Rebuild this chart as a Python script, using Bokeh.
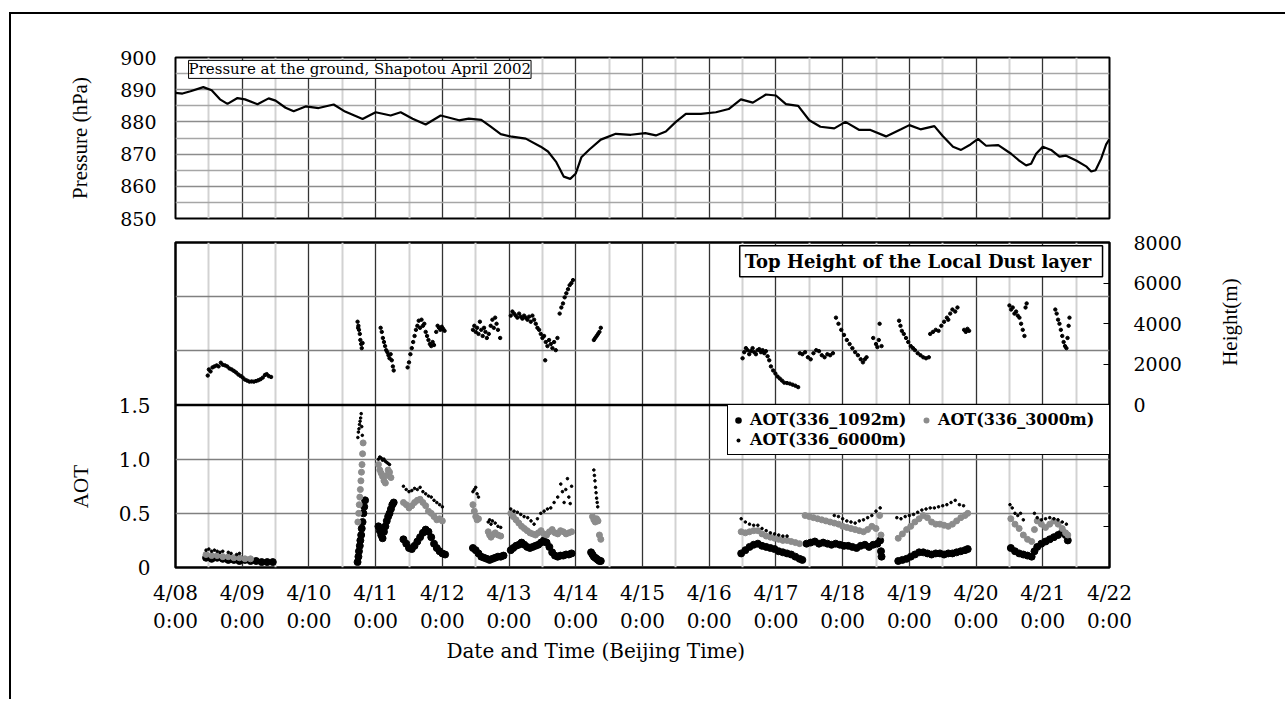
import math
from bokeh.plotting import figure
from bokeh.models import (Range1d, LinearAxis, FixedTicker, CustomJSTickFormatter,
                          Label, Legend, LegendItem, Span)
from bokeh.layouts import column
from bokeh.embed import file_html
from bokeh.resources import INLINE

FONT = "DejaVu Serif"
RFONT = "Liberation Serif"

# ---------------- data ----------------
day_ticks = [0, 24, 48, 72, 96, 120, 144, 168, 192, 216, 240, 264, 288, 312, 336]
half_day_ticks = [12, 36, 60, 84, 108, 132, 156, 180, 204, 228, 252, 276, 300, 324]
day_labels = ["4/08\n0:00", "4/09\n0:00", "4/10\n0:00", "4/11\n0:00", "4/12\n0:00",
              "4/13\n0:00", "4/14\n0:00", "4/15\n0:00", "4/16\n0:00", "4/17\n0:00",
              "4/18\n0:00", "4/19\n0:00", "4/20\n0:00", "4/21\n0:00", "4/22\n0:00"]
pressure_ticks = [850, 860, 870, 880, 890, 900]
aot_ticks = [0, 0.5, 1.0, 1.5]
height_ticks = [-6000, -4000, -2000, 0, 2000, 4000, 6000, 8000]

# hours since 4/08 0:00 (Beijing time)
pressure_hours = [0, 2.5, 5.4, 10, 13, 16, 18.7, 22.3, 25, 29.5, 33.5, 36, 39.6, 42.5, 46.8,
                  51.5, 56.9, 61, 67.3, 72, 77.4, 81, 85.3, 90, 95.4, 102, 105.5, 110, 113.4,
                  117, 121, 126, 131.4, 134, 137, 139.7, 142, 144, 146, 149, 153, 158.4,
                  163.8, 169, 172.8, 176.4, 180, 183.6, 189, 194.4, 199, 203.4, 207.7, 212.4,
                  216, 219.6, 224, 228, 232, 237, 241, 246, 250, 255.6, 261, 264, 268, 273,
                  276, 279.7, 282.6, 286, 288.7, 291.6, 296, 300.6, 303.5, 306, 307.8, 309.6,
                  312, 315, 318, 320.4, 324, 327.6, 329.4, 331, 333, 334.8, 336]
pressure_hpa = [889.0, 888.8, 889.5, 890.8, 889.8, 887.0, 885.6, 887.4, 887.0, 885.5, 887.3,
                886.6, 884.4, 883.3, 884.8, 884.3, 885.4, 883.2, 880.9, 883.0, 882.0, 883.0,
                881.0, 879.2, 882.0, 880.5, 881.0, 880.6, 878.5, 876.2, 875.4, 874.8, 872.3,
                870.8, 867.5, 863.0, 862.3, 864.0, 869.0, 871.5, 874.5, 876.3, 876.0, 876.5,
                875.8, 877.0, 880.0, 882.5, 882.5, 883.0, 884.0, 887.0, 886.0, 888.5, 888.2,
                885.5, 885.0, 880.5, 878.5, 878.0, 880.0, 877.5, 877.5, 875.5, 877.7, 879.0,
                877.7, 878.7, 875.6, 872.3, 871.3, 873.0, 874.7, 872.6, 872.8, 870.1, 868.0,
                866.5, 867.0, 870.1, 872.3, 871.3, 869.2, 869.5, 868.0, 866.2, 864.6, 865.0,
                868.6, 873.0, 874.7]

height_hours = ([11.6, 12.0, 12.6, 13.3, 14.0, 14.8, 15.5, 16.3, 17.0, 17.8, 18.6, 19.4, 20.2,
                 21.0, 21.8, 22.6, 23.4, 24.2, 25.0, 25.8, 26.6, 27.4, 28.2, 29.0, 29.8, 30.6,
                 31.4, 32.2, 32.8, 33.6, 34.4]
                + [65.5, 65.7, 65.8, 66.0, 66.3, 66.5, 66.8, 67.0, 67.3]
                + [73.8, 74.2, 74.6, 75.0, 75.4, 75.8, 76.2, 76.6, 77.0, 77.4, 77.8, 78.2, 78.5]
                + [83.5, 84.0, 84.5, 85.0, 85.5, 86.0, 86.5, 87.0]
                + [87.5, 88.0, 88.5, 89.0, 89.5, 90.0, 90.5]
                + [91.0, 91.5, 92.0, 92.5, 93.0]
                + [93.8, 94.3, 94.8, 95.3, 95.8, 96.3, 96.8]
                + [107.0, 107.5, 108.0, 108.5, 109.0, 109.5, 110.0, 110.5, 111.0, 111.5, 112.0,
                   112.7, 113.4, 114.0, 114.5, 115.0, 115.5, 116.0, 116.8]
                + [120.6, 121.2, 121.8, 122.4, 123.0, 123.6, 124.2, 124.8, 125.4, 126.0, 126.6,
                   127.2, 127.8, 128.4, 129.0, 129.6]
                + [130.2, 130.8, 131.4, 132.0, 132.6, 133.0, 133.2, 133.8, 134.4, 135.0, 135.6,
                   136.2, 136.8, 137.4]
                + [138.2, 138.8, 139.4, 140.0, 140.6, 141.2, 141.8, 142.4, 143.0]
                + [150.5, 151.0, 151.5, 152.0, 152.5, 153.0]
                + [204.0, 204.6, 205.2, 205.8, 206.4, 207.0, 207.6, 208.2, 208.8, 209.4, 210.0,
                   210.6, 211.2, 211.8, 212.4, 213.0, 213.6]
                + [214.2, 215.0, 215.8, 216.6, 217.4, 218.2, 219.0, 220.0, 221.0, 222.0, 223.0,
                   224.0]
                + [224.6, 225.5, 226.5, 227.5, 228.5, 229.5, 230.5, 231.5, 232.5, 233.5, 234.5,
                   235.5, 236.5]
                + [237.6, 238.5, 239.5, 240.5, 241.5, 242.5, 243.5, 244.5, 245.5, 246.5, 247.3,
                   248.0, 248.6]
                + [251.0, 252.0, 252.5, 253.0, 253.3, 254.0]
                + [260.3, 260.8, 261.3, 262.0, 262.8, 263.6, 264.5, 265.3, 266.0, 267.0, 268.0,
                   269.0, 270.0, 271.0]
                + [271.5, 272.5, 273.5, 274.5, 275.5, 276.5, 277.5, 278.0, 278.7, 279.5, 280.5,
                   281.3]
                + [283.7, 284.3, 284.9, 285.5]
                + [300.0, 300.6, 301.2, 301.8, 302.4, 303.0, 303.6, 304.2, 304.8, 305.4, 305.8,
                   306.2]
                + [316.5, 317.0, 317.5, 318.0, 318.5, 319.0, 319.5, 320.0, 320.5, 320.9, 321.3,
                   321.6])
height_m = ([1450, 1750, 1650, 1850, 1900, 1950, 1900, 2080, 1980, 1950, 1900, 1800, 1750, 1680,
             1600, 1500, 1430, 1350, 1250, 1200, 1150, 1160, 1150, 1180, 1220, 1270, 1350, 1480,
             1520, 1420, 1380]
            + [4100, 3800, 3900, 3700, 3500, 3200, 3000, 2800, 3050]
            + [3800, 3600, 3300, 3100, 2900, 2700, 2600, 2450, 2300, 2500, 2200, 1900, 1700]
            + [1850, 2100, 2500, 2800, 3100, 3400, 3700, 3900]
            + [4150, 3800, 4200, 3900, 4000, 3600, 3400]
            + [3200, 3000, 2900, 3100, 2950]
            + [3600, 3900, 3800, 3700, 3850, 3750, 3650]
            + [3700, 3900, 3600, 3800, 3500, 4100, 3700, 3400, 3800, 3600, 3300, 3500, 3900, 4200,
               3800, 4300, 4000, 3700, 3300]
            + [4400, 4600, 4500, 4400, 4300, 4500, 4350, 4250, 4400, 4300, 4200, 4350, 4100, 4400,
               4200, 4000]
            + [3800, 3700, 3500, 3300, 3400, 2200, 3100, 2900, 3200, 3000, 2800, 3100, 2700, 3300]
            + [4500, 4800, 5000, 5300, 5500, 5700, 5900, 6000, 6150]
            + [3200, 3300, 3400, 3500, 3600, 3800]
            + [2300, 2600, 2800, 2700, 2500, 2650, 2800, 2600, 2500, 2700, 2750, 2600, 2700, 2550,
               2650, 2400, 2200]
            + [1900, 1700, 1550, 1400, 1300, 1200, 1100, 1080, 1050, 1000, 950, 880]
            + [2550, 2500, 2600, 2350, 2250, 2550, 2700, 2650, 2450, 2350, 2500, 2450, 2550]
            + [4300, 4000, 3700, 3450, 3200, 3000, 2800, 2600, 2450, 2250, 2100, 2250, 2350]
            + [3300, 3000, 2850, 3200, 4000, 2900]
            + [4150, 3900, 3650, 3500, 3300, 3100, 2900, 2800, 2700, 2550, 2450, 2350, 2300, 2350]
            + [3500, 3600, 3700, 3650, 3900, 4100, 4300, 4200, 4500, 4700, 4600, 4800]
            + [3700, 3600, 3750, 3650]
            + [4900, 4700, 4800, 4500, 4600, 4400, 4300, 4000, 3700, 3400, 4800, 5000]
            + [4700, 4500, 4200, 4000, 3700, 3400, 3100, 2900, 2800, 3300, 3900, 4300])

aot1092_hours = ([11, 13, 15, 17, 19, 21, 23, 25, 27, 29, 31, 33, 35]
                 + [65.5, 65.8, 66.0, 66.3, 66.5, 66.8, 67.0, 67.3, 67.6, 67.9, 68.2]
                 + [73.0, 73.5, 74.0, 74.5, 75.0, 75.5, 76.0, 76.5, 77.0, 77.5, 78.0, 78.5]
                 + [82, 83, 84, 85, 86, 87, 88, 89, 90, 91, 92, 93, 94, 95, 96, 97]
                 + [107, 108, 109, 110, 111, 112, 113, 114, 115, 116, 117, 118]
                 + [120.6, 121.5, 122.5, 123.5, 124.5, 125.5, 126.5, 127.5, 128.5, 129.5, 130.5,
                    131.5, 132.5, 133.5, 134.5, 135.5, 136.5, 137.5, 138.5, 139.5, 140.5, 141.5,
                    142.5]
                 + [149.5, 150, 150.5, 151, 151.5, 152, 152.5, 153]
                 + [203.5, 205, 206.5, 208, 209.5, 211, 212.5, 214, 215.5, 217, 218.5, 220, 221.5,
                    223, 224.5, 225.5]
                 + [227, 228.5, 230, 231.5, 233, 234.5, 236, 237.5, 239, 240.5, 242, 243.5, 245,
                    246.5, 248, 249.5, 251, 252.5, 253.5, 253.8, 254]
                 + [260, 261.5, 263, 264.5, 266, 267.5, 269, 270.5, 272, 273.5, 275, 276.5, 278,
                    279.5, 281, 282.5, 284, 285]
                 + [300.5, 302, 303.5, 305, 306.5, 308, 309, 310, 311.5, 313, 314.5, 316, 317.5,
                    319, 320.2, 321])
aot1092 = ([0.09, 0.08, 0.09, 0.08, 0.07, 0.07, 0.06, 0.07, 0.06, 0.06, 0.05, 0.05, 0.05]
           + [0.05, 0.1, 0.15, 0.2, 0.25, 0.3, 0.36, 0.42, 0.5, 0.56, 0.62]
           + [0.38, 0.34, 0.3, 0.27, 0.33, 0.38, 0.43, 0.47, 0.5, 0.54, 0.58, 0.6]
           + [0.26, 0.22, 0.18, 0.17, 0.2, 0.24, 0.28, 0.32, 0.35, 0.33, 0.28, 0.22, 0.18, 0.15,
              0.13, 0.12]
           + [0.18, 0.16, 0.13, 0.1, 0.09, 0.08, 0.07, 0.08, 0.09, 0.1, 0.1, 0.11]
           + [0.16, 0.18, 0.2, 0.21, 0.23, 0.21, 0.19, 0.18, 0.19, 0.2, 0.21, 0.23, 0.25, 0.23,
              0.19, 0.14, 0.11, 0.1, 0.11, 0.11, 0.12, 0.12, 0.13]
           + [0.14, 0.12, 0.1, 0.09, 0.08, 0.07, 0.06, 0.06]
           + [0.13, 0.16, 0.19, 0.21, 0.22, 0.2, 0.19, 0.18, 0.17, 0.15, 0.14, 0.13, 0.12, 0.1,
              0.08, 0.07]
           + [0.22, 0.23, 0.24, 0.22, 0.23, 0.22, 0.21, 0.22, 0.21, 0.2, 0.2, 0.19, 0.18, 0.2,
              0.21, 0.19, 0.21, 0.22, 0.25, 0.15, 0.1]
           + [0.06, 0.07, 0.08, 0.1, 0.12, 0.14, 0.14, 0.13, 0.12, 0.13, 0.13, 0.12, 0.13, 0.13,
              0.14, 0.15, 0.16, 0.17]
           + [0.18, 0.15, 0.13, 0.12, 0.11, 0.1, 0.15, 0.19, 0.22, 0.24, 0.26, 0.28, 0.3, 0.33,
              0.3, 0.25])

aot3000_hours = ([11, 13, 15, 17, 19, 21, 23, 25, 27]
                 + [65.6, 65.9, 66.1, 66.3, 66.5, 66.7, 66.9, 67.1, 67.3, 67.5]
                 + [73, 73.5, 74, 74.5, 75, 75.5, 76, 76.5, 77, 77.5]
                 + [82, 83, 84, 85, 86, 87, 88, 89, 90, 91, 92, 93, 94, 95, 96]
                 + [107, 107.5, 108, 108.5, 109, 112.5, 113, 113.5, 114, 115, 116, 117]
                 + [120.6, 121.5, 122.5, 123.5, 124.5, 125.5, 126.5, 127.5, 128.5, 129.5, 130.5,
                    131.5, 132.5, 133.5, 134.5, 135.5, 136.5, 137.5, 138.5, 139.5, 140.5, 141.5,
                    142.5]
                 + [150, 150.5, 151, 151.5, 152, 152.5, 153]
                 + [203.5, 205, 206.5, 208, 209.5, 211, 212.5, 214, 215.5, 217, 218.5, 220, 221.5,
                    223, 224.5]
                 + [226.5, 228, 229.5, 231, 232.5, 234, 235.5, 237, 238.5, 240, 241.5, 243, 244.5,
                    246, 247.5, 249, 250.5, 252, 253.3, 253.8]
                 + [260, 261.5, 263, 264.5, 266, 267.5, 269, 270.5, 272, 273.5, 275, 276.5, 278,
                    279.5, 281, 282.5, 284, 285]
                 + [300.5, 302, 303.5, 305, 306.5, 308, 309, 310, 311.5, 313, 314.5, 316, 317.5,
                    319, 320.2, 321])
aot3000 = ([0.12, 0.11, 0.11, 0.1, 0.1, 0.09, 0.09, 0.08, 0.08]
           + [0.42, 0.5, 0.58, 0.65, 0.72, 0.8, 0.88, 0.95, 1.05, 1.15]
           + [0.95, 0.9, 0.87, 0.84, 0.8, 0.78, 0.85, 0.9, 0.88, 0.83]
           + [0.6, 0.58, 0.55, 0.57, 0.6, 0.62, 0.63, 0.6, 0.57, 0.52, 0.5, 0.47, 0.44, 0.45, 0.43]
           + [0.58, 0.52, 0.47, 0.44, 0.45, 0.33, 0.3, 0.28, 0.3, 0.32, 0.3, 0.29]
           + [0.5, 0.47, 0.44, 0.41, 0.38, 0.36, 0.34, 0.32, 0.31, 0.3, 0.32, 0.34, 0.31, 0.3,
              0.33, 0.35, 0.32, 0.31, 0.34, 0.33, 0.31, 0.32, 0.33]
           + [0.47, 0.44, 0.42, 0.45, 0.43, 0.3, 0.26]
           + [0.33, 0.32, 0.33, 0.34, 0.34, 0.31, 0.29, 0.28, 0.27, 0.26, 0.25, 0.25, 0.24, 0.23,
              0.22]
           + [0.48, 0.47, 0.46, 0.45, 0.44, 0.43, 0.42, 0.41, 0.4, 0.38, 0.37, 0.36, 0.35, 0.34,
              0.33, 0.35, 0.38, 0.36, 0.48, 0.3]
           + [0.27, 0.31, 0.35, 0.38, 0.42, 0.45, 0.48, 0.46, 0.42, 0.4, 0.4, 0.39, 0.38, 0.4,
              0.43, 0.46, 0.48, 0.5]
           + [0.45, 0.4, 0.36, 0.3, 0.26, 0.24, 0.35, 0.43, 0.4, 0.37, 0.4, 0.43, 0.4, 0.36,
              0.32, 0.3])

aot6000_hours = ([11, 12, 13, 14, 15, 16, 17, 19, 20, 22, 23]
                 + [65.6, 65.8, 66.0, 66.2, 66.4, 66.6, 66.8, 67.0, 67.2]
                 + [73, 73.5, 74, 74.5, 75, 75.5, 76, 76.5, 77]
                 + [82, 83, 84, 85, 86, 87, 88, 89, 90, 91, 92, 93, 94, 95, 96]
                 + [107, 107.5, 108, 108.5, 109, 112.5, 113, 113.5, 114, 115, 116, 117]
                 + [120.6, 121.8, 123, 124.2, 125.4, 126.7, 127.9, 129, 130.2, 131.4, 132.6, 133.8,
                    135, 136.2, 137.5, 138.6, 139.2, 139.8, 140.4, 141, 141.5, 142, 142.5]
                 + [150.5, 150.7, 150.9, 151.1, 151.3, 151.5, 151.7, 151.9]
                 + [203.5, 205, 206.5, 208, 209.5, 211, 212.5, 214, 215.5, 217, 218.5, 220]
                 + [237, 238.5, 240, 241.5, 243, 244.5, 246, 247.5, 249, 250.5, 252, 253.5]
                 + [259.5, 261, 262.5, 264, 265.5, 267, 268.5, 270, 271.5, 273, 274.5, 276, 277.5,
                    279, 280.5, 282, 283.5]
                 + [300.2, 301, 302, 303, 304, 305, 309, 310, 311.5, 313, 314.5, 316, 317.5, 319,
                    320.5])
aot6000 = ([0.16, 0.17, 0.15, 0.16, 0.15, 0.14, 0.15, 0.14, 0.13, 0.12, 0.13]
           + [1.2, 1.25, 1.28, 1.32, 1.35, 1.38, 1.42, 1.3, 1.22]
           + [1.0, 1.02, 1.01, 0.99, 1.0, 0.98, 0.97, 0.96, 0.95]
           + [0.75, 0.72, 0.7, 0.71, 0.73, 0.72, 0.74, 0.7, 0.68, 0.66, 0.65, 0.62, 0.6, 0.58, 0.56]
           + [0.7, 0.72, 0.74, 0.68, 0.65, 0.42, 0.44, 0.4, 0.43, 0.41, 0.38, 0.37]
           + [0.54, 0.52, 0.51, 0.49, 0.47, 0.46, 0.43, 0.4, 0.45, 0.5, 0.52, 0.54, 0.55, 0.6,
              0.65, 0.77, 0.7, 0.6, 0.72, 0.82, 0.65, 0.59, 0.75]
           + [0.9, 0.85, 0.8, 0.74, 0.69, 0.64, 0.6, 0.56]
           + [0.45, 0.42, 0.4, 0.39, 0.39, 0.36, 0.34, 0.32, 0.31, 0.3, 0.29, 0.29]
           + [0.48, 0.47, 0.45, 0.43, 0.42, 0.41, 0.43, 0.44, 0.46, 0.48, 0.52, 0.55]
           + [0.46, 0.45, 0.47, 0.48, 0.49, 0.51, 0.53, 0.54, 0.55, 0.55, 0.56, 0.57, 0.58, 0.6,
              0.62, 0.58, 0.57]
           + [0.58, 0.55, 0.5, 0.48, 0.5, 0.44, 0.5, 0.46, 0.44, 0.45, 0.46, 0.45, 0.44, 0.42, 0.4])

# ---------------- shared styling helpers ----------------
x_range = Range1d(0, 336)


def style_vgrid(p):
    p.xgrid.ticker = FixedTicker(ticks=day_ticks[1:-1], minor_ticks=half_day_ticks)
    p.xgrid.grid_line_color = "#333333"
    p.xgrid.grid_line_width = 1.3
    p.xgrid.minor_grid_line_color = "#d2d2d2"
    p.xgrid.minor_grid_line_width = 2


def plain_axis(ax, size="19px", font=FONT, standoff=20):
    ax.axis_line_color = None
    ax.major_tick_out = 0
    ax.major_tick_in = 0
    ax.minor_tick_out = 0
    ax.minor_tick_in = 0
    ax.major_label_standoff = standoff
    ax.major_label_text_font = font
    ax.major_label_text_font_size = size
    ax.major_label_text_color = "black"


def title_axis(text, tick, orientation, size, font, standoff, y_range_name="default"):
    ax = LinearAxis(ticker=FixedTicker(ticks=[tick]), y_range_name=y_range_name,
                    formatter=CustomJSTickFormatter(args=dict(t=text), code="return t;"))
    plain_axis(ax, size=size, font=font, standoff=standoff)
    if orientation is not None:
        ax.major_label_orientation = orientation
    return ax


# ---------------- pressure panel ----------------
p1 = figure(frame_width=934, frame_height=161, x_range=x_range, y_range=Range1d(850, 900),
            output_backend="svg", toolbar_location=None,
            min_border_left=164, min_border_right=176, min_border_top=43, min_border_bottom=12)
p1.xaxis.visible = False
style_vgrid(p1)
p1.ygrid.ticker = FixedTicker(ticks=[860, 870, 880, 890], minor_ticks=[855, 865, 875, 885, 895])
p1.ygrid.grid_line_color = "#8c8c8c"
p1.ygrid.grid_line_width = 1.3
p1.ygrid.minor_grid_line_color = "#a6a6a6"
p1.ygrid.minor_grid_line_width = 1.3
ya = p1.yaxis[0]
ya.ticker = FixedTicker(ticks=pressure_ticks)
plain_axis(ya, size="19px", standoff=19)
ya.axis_label = "Pressure (hPa)"
ya.axis_label_text_font = RFONT
ya.axis_label_text_font_size = "21px"
ya.axis_label_text_font_style = "normal"
ya.axis_label_text_color = "black"
ya.axis_label_standoff = 25
p1.outline_line_color = "black"
p1.outline_line_width = 2
p1.outline_line_alpha = 1

p1.line(pressure_hours, pressure_hpa, line_color="black", line_width=2.2)
p1.add_layout(Label(x=4.7, y=899.1, text="Pressure at the ground, Shapotou April 2002",
                    text_align="left", text_baseline="top", text_font=FONT,
                    text_font_size="15px", text_color="black",
                    border_line_color="black", border_line_width=1,
                    background_fill_color="white", background_fill_alpha=1, padding=0))

# ---------------- AOT / height panel ----------------
p2 = figure(frame_width=934, frame_height=325, x_range=x_range, y_range=Range1d(0, 3),
            output_backend="svg", toolbar_location=None,
            min_border_left=164, min_border_right=176, min_border_top=12, min_border_bottom=132)
p2.extra_y_ranges = {"h": Range1d(-8000, 8000), "off": Range1d(50, 60)}
style_vgrid(p2)
p2.ygrid.ticker = FixedTicker(ticks=[0.5, 1.0, 2.0, 2.5])
p2.ygrid.grid_line_color = "#808080"
p2.ygrid.grid_line_width = 1.6

la = p2.yaxis[0]
la.ticker = FixedTicker(ticks=aot_ticks)
la.formatter = CustomJSTickFormatter(code="return tick == 0 ? '0' : tick.toFixed(1);")
plain_axis(la, size="20px", standoff=25)

ra = LinearAxis(y_range_name="h", ticker=FixedTicker(ticks=height_ticks),
                formatter=CustomJSTickFormatter(code="return tick < 0 ? '' : String(tick);"))
plain_axis(ra, size="19px", standoff=24)
ra.major_tick_in = 6
ra.major_tick_line_width = 1.2
p2.add_layout(ra, "right")

xa = p2.xaxis[0]
xa.ticker = FixedTicker(ticks=day_ticks)
xa.formatter = CustomJSTickFormatter(args=dict(labels=day_labels),
                                     code="return labels[Math.round(tick / 24)];")
plain_axis(xa, size="20px", standoff=13)

# axis titles placed as single-tick labels of extra axes (so they sit outside the frame)
p2.add_layout(title_axis("AOT", 0.946, math.pi / 2, "21px", RFONT, 34), "left")
p2.add_layout(title_axis("Height(m)", 1930, math.pi / 2, "21px", RFONT, 45, y_range_name="h"),
              "right")
p2.add_layout(title_axis("Date and Time (Beijing Time)", 151.2, None, "20px", FONT, 2),
              "below")

p2.outline_line_color = "black"
p2.outline_line_width = 2.5
p2.outline_line_alpha = 1
p2.add_layout(Span(location=1.5, dimension="width", line_color="black", line_width=2.5))

rh = p2.scatter(height_hours, height_m, y_range_name="h", marker="circle", size=3.4,
                color="black")
r1 = p2.scatter(aot1092_hours, aot1092, marker="circle", size=7, color="black")
r2 = p2.scatter(aot3000_hours, aot3000, marker="circle", size=6, color="#8c8c8c")
r3 = p2.scatter(aot6000_hours, aot6000, marker="circle", size=2.6, color="black")

# legend swatches: same series mapped onto an off-screen range, styled so the legend
# symbols show the three different dot sizes of the original key
k1 = p2.scatter(aot1092_hours, aot1092, y_range_name="off", marker="circle", size=7,
                fill_color="black", line_color="black", line_width=2.6)
k2 = p2.scatter(aot3000_hours, aot3000, y_range_name="off", marker="circle", size=6,
                fill_color="#8c8c8c", line_color="#8c8c8c", line_width=2.0)
k3 = p2.scatter(aot6000_hours, aot6000, y_range_name="off", marker="circle", size=3,
                fill_color="black", line_color=None)

legend = Legend(items=[LegendItem(label="AOT(336_1092m)", renderers=[k1]),
                       LegendItem(label="AOT(336_3000m)", renderers=[k2]),
                       LegendItem(label="AOT(336_6000m)", renderers=[k3])],
                location=(552, 112), orientation="horizontal", ncols=2,
                label_text_font=FONT, label_text_font_style="bold",
                label_text_font_size="16px", label_text_color="black",
                border_line_color="black", border_line_width=1.5, border_line_alpha=1,
                background_fill_color="white", background_fill_alpha=1,
                padding=5, spacing=1, margin=0, glyph_width=10, glyph_height=16,
                label_height=16, label_width=170, label_standoff=7)
p2.add_layout(legend)

p2.add_layout(Label(x=333.5, y=2.97, text="Top Height of the  Local Dust layer",
                    text_align="right", text_baseline="top", text_font=FONT,
                    text_font_style="bold", text_font_size="18px", text_color="black",
                    border_line_color="black", border_line_width=1.5,
                    background_fill_color="white", background_fill_alpha=1, padding=5))

layout = column(p1, p2, styles={"border-left": "2px solid black",
                                "border-top": "2px solid black",
                                "margin-top": "12px", "margin-left": "9px"})

open("out.html", "w").write(file_html(layout, INLINE))
